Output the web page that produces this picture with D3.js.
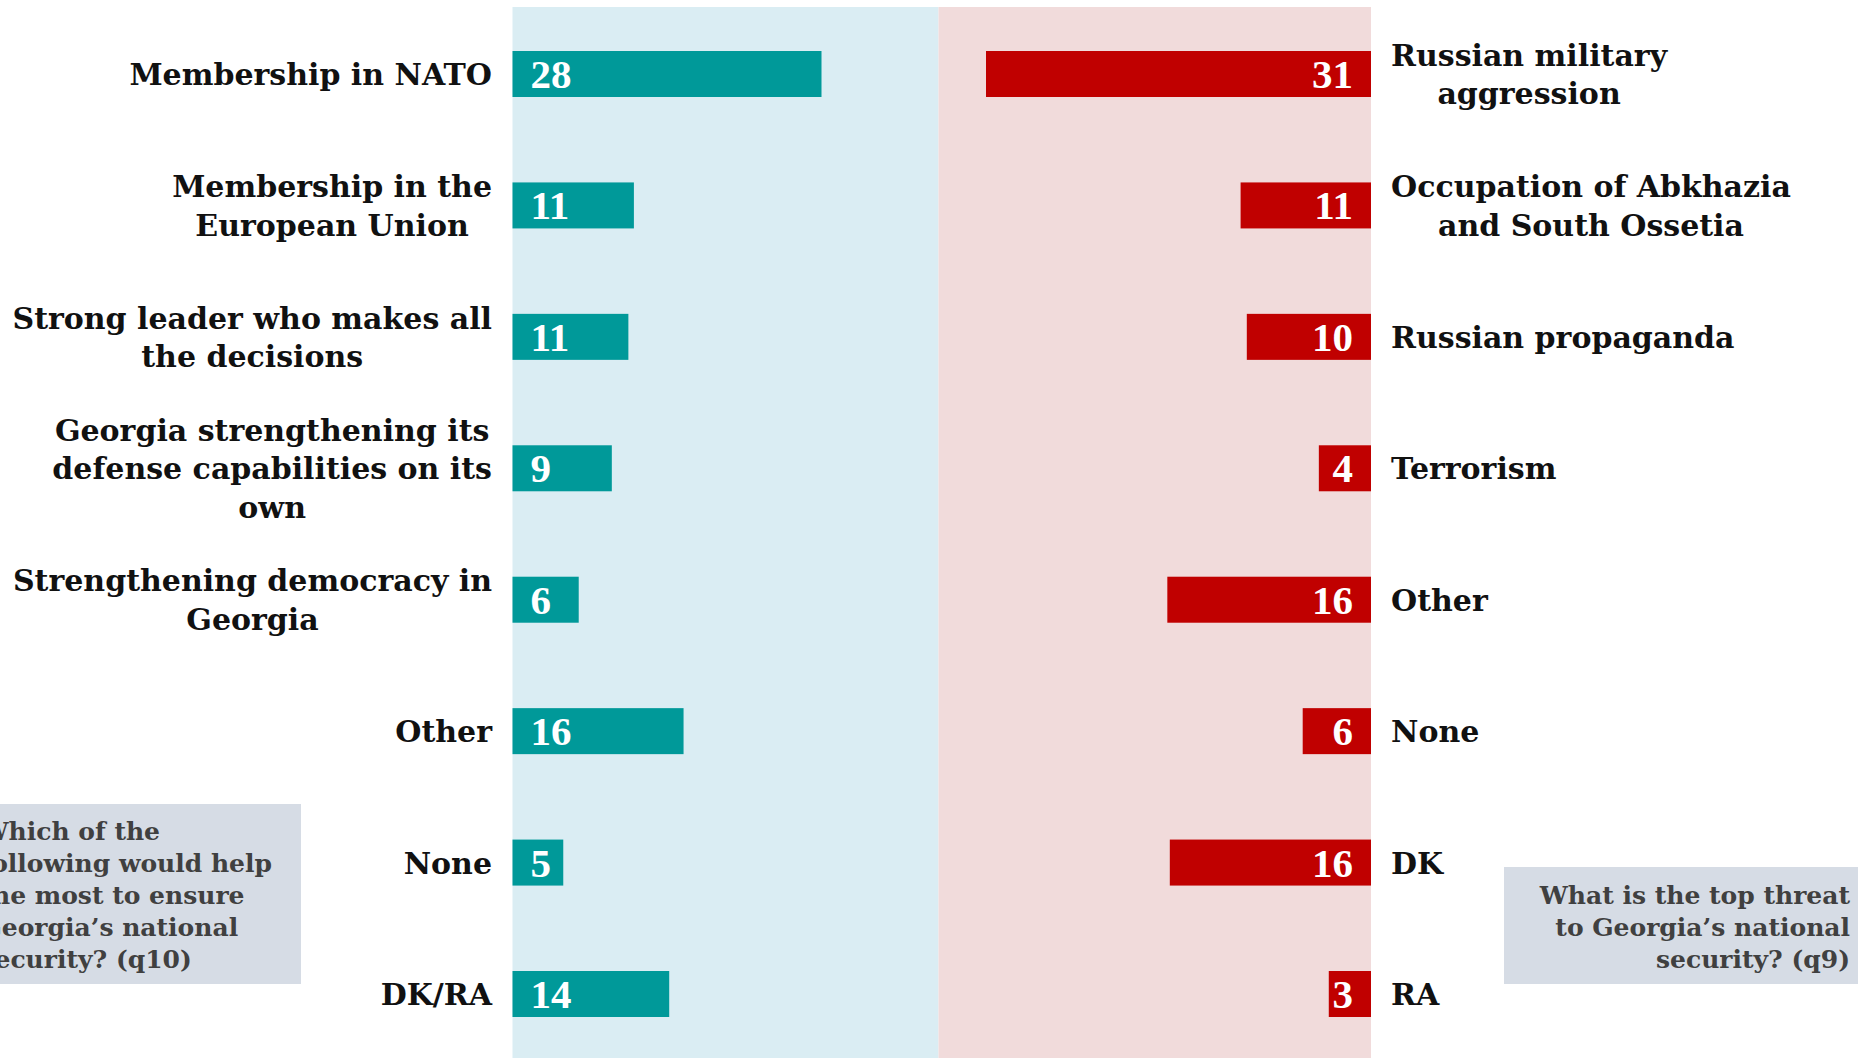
<!DOCTYPE html>
<html>
<head>
<meta charset="utf-8">
<script src="https://cdn.jsdelivr.net/npm/d3@7"></script>
<style>
  html, body { margin: 0; padding: 0; background: #fff; }
  svg { display: block; }
</style>
</head>
<body>
<div class="chart"></div>
<script>
// left: what would help most (q10)
const helpLabels = [
  ['Membership in NATO'],
  ['Membership in the', 'European Union'],
  ['Strong leader who makes all', 'the decisions'],
  ['Georgia strengthening its', 'defense capabilities on its', 'own'],
  ['Strengthening democracy in', 'Georgia'],
  ['Other'],
  ['None'],
  ['DK/RA']
];
const helpValues = [28, 11, 10.5, 9, 6, 15.5, 4.6, 14.2];

// right: top threat (q9)
const threatLabels = [
  ['Russian military', 'aggression'],
  ['Occupation of Abkhazia', 'and South Ossetia'],
  ['Russian propaganda'],
  ['Terrorism'],
  ['Other'],
  ['None'],
  ['DK'],
  ['RA']
];
const threatValues = [31, 10.5, 10, 4.2, 16.4, 5.5, 16.2, 3.4];

const helpQuestion = ['Which of the', 'following would help', 'the most to ensure', 'Georgia\u2019s national', 'security? (q10)'];
const threatQuestion = ['What is the top threat', 'to Georgia\u2019s national', 'security? (q9)'];

const width = 1858, height = 1058;
const teal = '#009999', red = '#c00000';
const labelFont = '"DejaVu Serif", serif';
const numFont = '"Liberation Serif", serif';

const svg = d3.select('.chart').append('svg')
  .attr('width', width).attr('height', height);

const xL = d3.scaleLinear().domain([0, 28]).range([512.5, 821.5]);
const xR = d3.scaleLinear().domain([0, 31]).range([1371, 986]);
const yL = d3.scalePoint().domain(d3.range(helpValues.length)).range([74, 994]);
const yR = d3.scalePoint().domain(d3.range(threatValues.length)).range([74, 994]);
const barH = 46, lineH = 38.5;

// panels
svg.append('rect').attr('x', xL(0)).attr('y', 7)
  .attr('width', 938.5 - xL(0)).attr('height', height - 7).attr('fill', '#daedf3');
svg.append('rect').attr('x', 938.5).attr('y', 7)
  .attr('width', xR(0) - 938.5).attr('height', height - 7).attr('fill', '#f1dbdb');

// left bars
const gl = svg.append('g');
gl.selectAll('.bar').data(helpValues).enter().append('rect')
  .attr('class', 'bar')
  .attr('x', xL(0))
  .attr('y', (d, i) => yL(i) - barH / 2)
  .attr('width', d => xL(d) - xL(0))
  .attr('height', barH)
  .attr('fill', teal);
gl.selectAll('.num').data(helpValues).enter().append('text')
  .attr('x', xL(0) + 18)
  .attr('y', (d, i) => yL(i) + 14)
  .attr('fill', '#fff')
  .style('font-family', numFont).style('font-weight', 'bold').style('font-size', '41px')
  .text(d => Math.round(d));

// right bars
const gr = svg.append('g');
gr.selectAll('.bar').data(threatValues).enter().append('rect')
  .attr('class', 'bar')
  .attr('x', d => xR(d))
  .attr('y', (d, i) => yR(i) - barH / 2)
  .attr('width', d => xR(0) - xR(d))
  .attr('height', barH)
  .attr('fill', red);
gr.selectAll('.num').data(threatValues).enter().append('text')
  .attr('x', xR(0) - 18)
  .attr('y', (d, i) => yR(i) + 14)
  .attr('text-anchor', 'end')
  .attr('fill', '#fff')
  .style('font-family', numFont).style('font-weight', 'bold').style('font-size', '41px')
  .text(d => Math.round(d));

// category labels: lines centred on each other, block aligned to the panel edge
function labelBlock(g, lines, cy, edge, side) {
  const n = lines.length;
  const t = g.selectAll(null).data(lines).enter().append('text')
    .attr('y', (d, i) => cy + 11 + (i - (n - 1) / 2) * lineH)
    .attr('text-anchor', 'middle')
    .attr('fill', '#111')
    .style('font-family', labelFont).style('font-weight', 'bold').style('font-size', '30px')
    .text(d => d);
  const w = d3.max(t.nodes(), nd => nd.getComputedTextLength());
  t.attr('x', side === 'left' ? edge - w / 2 : edge + w / 2);
}
helpLabels.forEach((lines, i) => labelBlock(svg.append('g'), lines, yL(i), 492, 'left'));
threatLabels.forEach((lines, i) => labelBlock(svg.append('g'), lines, yR(i), 1391, 'right'));

// question boxes
svg.append('rect').attr('x', -10).attr('y', 804).attr('width', 311).attr('height', 180).attr('fill', '#d6dce5');
svg.append('rect').attr('x', 1504).attr('y', 867).attr('width', 360).attr('height', 117).attr('fill', '#d6dce5');

const qL = svg.append('g').selectAll('text').data(helpQuestion).enter().append('text')
  .attr('y', (d, i) => 840 + i * 32)
  .attr('fill', '#404040')
  .style('font-family', labelFont).style('font-weight', 'bold').style('font-size', '25px')
  .text(d => d);
const refW = qL.filter((d, i) => i === 1).node().getComputedTextLength();
qL.attr('x', 272 - refW);

svg.append('g').selectAll('text').data(threatQuestion).enter().append('text')
  .attr('x', 1850)
  .attr('y', (d, i) => 904 + i * 32)
  .attr('text-anchor', 'end')
  .attr('fill', '#404040')
  .style('font-family', labelFont).style('font-weight', 'bold').style('font-size', '25px')
  .text(d => d);
</script>
</body>
</html>
